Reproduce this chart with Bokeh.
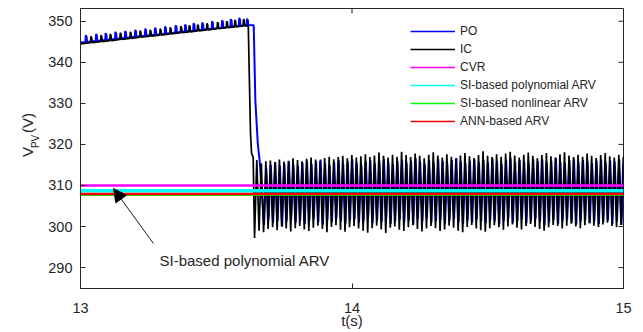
import numpy as np
from bokeh.plotting import figure
from bokeh.layouts import row
from bokeh.core.properties import value
from bokeh.models import (Range1d, Legend, LegendItem, Label, Arrow, NormalHead, FixedTicker)
from bokeh.embed import file_html
from bokeh.resources import INLINE

# ---------------- data ----------------
x_ticks = [13, 14, 15]
y_ticks = [290, 300, 310, 320, 330, 340, 350]

# IC (black) before the step: spike times, ramp baseline, spike tops
ic_spike_t = [13.037, 13.074, 13.108, 13.145, 13.182, 13.218, 13.255, 13.292, 13.329,
              13.368, 13.399, 13.430, 13.464, 13.503, 13.537, 13.567, 13.599]
ic_spike_base = [344.77, 345.04, 345.29, 345.56, 345.83, 346.09, 346.36, 346.63, 346.90,
                 347.19, 347.41, 347.64, 347.89, 348.17, 348.42, 348.64, 348.87]
ic_spike_peak = [346.3, 346.6, 346.9, 347.2, 347.4, 347.7, 347.9, 348.2, 348.5,
                 348.8, 349.0, 349.2, 349.5, 349.8, 350.0, 350.3, 350.5]
ic_start = [13.0, 344.5]
ic_drop_t = [13.618, 13.626, 13.630, 13.636]
ic_drop_v = [348.9, 323.0, 317.8, 316.9]

# PO (blue) before the step
po_spike_t = [13.018, 13.056, 13.091, 13.127, 13.163, 13.200, 13.237, 13.273, 13.310,
              13.349, 13.384, 13.415, 13.447, 13.483, 13.520, 13.552, 13.583, 13.612]
po_spike_base = [344.93, 345.19, 345.44, 345.69, 345.94, 346.20, 346.46, 346.71, 346.97,
                 347.24, 347.49, 347.71, 347.93, 348.18, 348.44, 348.66, 348.88, 349.08]
po_spike_peak = [346.6, 346.9, 347.1, 347.4, 347.6, 347.9, 348.2, 348.4, 348.7,
                 349.0, 349.2, 349.5, 349.7, 350.0, 350.2, 350.5, 350.8, 350.6]
po_start = [13.0, 344.9]
po_drop_t = [13.638, 13.644, 13.653, 13.660]
po_drop_v = [349.0, 330.7, 320.2, 316.0]

# oscillation after the step (about 60 Hz): troughs and peaks per cycle
osc_period = 1.0 / 60.0
ic_osc_t0 = 13.641
ic_trough = [297.2, 299.0, 298.6, 299.4, 299.8, 299.1, 300.0, 299.5, 298.8, 299.6,
             300.1, 299.3, 298.9, 299.7, 300.2, 299.4, 298.6, 299.9, 300.3, 299.2,
             298.7, 299.8, 300.1, 299.5, 299.0, 298.5, 299.6, 300.2, 299.3, 298.4,
             299.7, 300.0, 299.2, 298.9, 299.8, 300.3, 299.4, 298.8, 299.5, 300.1,
             299.6, 298.9, 299.3, 300.2, 299.7, 299.0, 298.6, 299.9, 300.4, 299.5,
             299.1, 298.7, 299.6, 300.3, 299.8, 299.2, 300.0, 300.5, 299.7, 299.3,
             300.1, 300.6, 299.9, 299.4, 299.0, 299.8, 300.4, 300.1, 299.5, 300.2,
             300.7, 300.0, 299.6, 300.3, 300.8, 300.2, 299.9, 300.5, 300.9, 300.1,
             299.8, 300.4]
ic_peak = [316.2, 315.4, 315.9, 316.1, 315.7, 316.3, 315.8, 316.0, 316.6, 316.2,
           315.9, 316.5, 316.8, 316.3, 316.0, 316.7, 317.0, 316.4, 316.9, 317.2,
           316.6, 317.4, 316.8, 317.1, 317.6, 316.9, 317.3, 318.0, 317.2, 316.8,
           317.5, 317.0, 318.2, 317.4, 316.9, 317.8, 317.2, 316.6, 317.5, 318.1,
           317.3, 316.8, 317.6, 317.0, 316.5, 317.3, 317.9, 317.1, 316.7, 317.4,
           318.3, 317.2, 316.9, 317.6, 317.0, 317.8, 318.2, 317.3, 316.8, 317.5,
           318.0, 317.2, 316.6, 317.4, 317.9, 317.1, 316.8, 317.6, 318.1, 317.3,
           316.9, 317.5, 317.0, 317.8, 317.2, 316.7, 317.4, 317.9, 317.1, 316.8,
           317.5, 317.0]
po_osc_t0 = 13.676
po_trough = [300.4, 301.7, 301.0, 301.4, 300.0, 301.2, 301.8, 300.9, 301.5, 300.6,
             301.3, 301.9, 301.1, 300.4, 301.6, 301.0, 302.0, 301.2, 300.7, 301.4,
             301.8, 300.9, 301.3, 302.1, 300.8, 301.5, 301.1, 301.9, 300.6, 301.2,
             301.7, 301.0, 301.4, 300.5, 301.8, 301.2, 302.0, 300.9, 301.3, 301.6,
             300.7, 301.4, 301.9, 301.1, 300.6, 301.5, 301.0, 301.8, 301.3, 300.8,
             301.6, 301.2, 300.5, 301.4, 302.0, 300.9, 301.3, 301.7, 300.8, 301.2,
             301.9, 301.1, 300.4, 301.0, 301.6, 300.7, 301.3, 301.8, 300.9, 300.5,
             301.2, 301.7, 300.8, 301.3, 300.6, 301.1, 301.5, 300.7, 301.2, 300.4,
             301.0]
po_peak = [314.2, 315.0, 315.6, 314.8, 315.3, 315.9, 315.1, 314.7, 315.5, 316.0,
           315.2, 315.8, 316.3, 315.4, 314.9, 315.7, 316.1, 315.3, 315.9, 316.4,
           315.6, 315.1, 315.8, 316.2, 315.4, 316.0, 316.5, 315.7, 315.2, 315.9,
           316.3, 315.5, 316.0, 316.6, 315.8, 315.3, 316.1, 315.6, 316.4, 315.9,
           315.4, 316.2, 316.7, 315.8, 315.5, 316.0, 316.4, 315.7, 316.2, 315.6,
           316.5, 315.9, 315.3, 316.1, 316.6, 315.7, 316.2, 315.8, 315.4, 316.3,
           315.9, 316.4, 315.6, 316.0, 316.7, 315.8, 315.5, 316.1, 316.5, 315.7,
           316.2, 315.9, 315.4, 316.0, 316.3, 315.6, 316.1, 315.8, 316.4, 315.5,
           312.4]

# flat controllers
flat_t = [13.0, 15.0]
cvr_v = [310.0, 310.0]
si_poly_v = [308.7, 308.7]
si_nonlin_v = [307.7, 307.7]
ann_v = [307.9, 307.9]

legend_labels = ["PO", "IC", "CVR", "SI-based polynomial ARV",
                 "SI-based nonlinear ARV", "ANN-based ARV"]
colors = ["#0000FF", "#000000", "#FF00FF", "#00FFFF", "#00FF00", "#FF0000"]


def build(start, sp_t, sp_b, sp_p, drop_t, drop_v, t0, troughs, peaks):
    xs, ys = [start[0]], [start[1]]
    for t, b, pk in zip(sp_t, sp_b, sp_p):
        xs += [t, t + 0.0015, t + 0.0045, t + 0.006]
        ys += [b, pk, pk - 0.4, b]
    xs += list(drop_t)
    ys += list(drop_v)
    for k, (tr, pk) in enumerate(zip(troughs, peaks)):
        xs += [t0 + k * osc_period, t0 + (k + 0.5) * osc_period]
        ys += [tr, pk]
    return xs, ys


po_x, po_y = build(po_start, po_spike_t, po_spike_base, po_spike_peak,
                   po_drop_t, po_drop_v, po_osc_t0, po_trough, po_peak)
ic_x, ic_y = build(ic_start, ic_spike_t, ic_spike_base, ic_spike_peak,
                   ic_drop_t, ic_drop_v, ic_osc_t0, ic_trough, ic_peak)

# ---------------- layout constants ----------------
X0, X1 = 13.0, 15.0
Y0, Y1 = 284.9, 353.1
H = 332
LW = 40                    # width of the strip that holds the y title
FL, FT, FW, FH = 80, 8, 543, 280   # frame position in the whole page
TXT = "#262626"
FONT = "Liberation Sans"


def sx(px):
    return X0 + (px - FL) / FW * (X1 - X0)


def sy(py):
    return Y1 - (py - FT) / FH * (Y1 - Y0)


# ---------------- y-title strip ----------------
lt = figure(width=LW, height=H, x_range=Range1d(0, LW), y_range=Range1d(0, H),
            x_axis_type=None, y_axis_type=None, min_border=0,
            output_backend="svg", toolbar_location=None)
lt.grid.visible = False
lt.outline_line_color = None
lt.border_fill_color = "white"
lt.background_fill_color = "white"
ytitle_parts = ["V", "PV", "(V)"]
ytitle_x = [27, 34.5, 27]
ytitle_y = [H - 176, H - 165.5, H - 147.5]
ytitle_size = ["15px", "10px", "15px"]
for t, xx, yy, fs in zip(ytitle_parts, ytitle_x, ytitle_y, ytitle_size):
    lt.text(x=[xx], y=[yy], text=[t], angle=np.pi / 2, text_font=value(FONT),
            text_font_size=value(fs), text_color=TXT, text_align="left",
            text_baseline="middle")

# ---------------- main figure ----------------
p = figure(width=643 - LW, height=H, x_range=Range1d(X0, X1), y_range=Range1d(Y0, Y1),
           output_backend="svg", toolbar_location=None,
           min_border_left=FL - LW, min_border_right=643 - FL - FW,
           min_border_top=FT, min_border_bottom=H - FT - FH)
p.grid.visible = False
p.outline_line_color = TXT
p.background_fill_color = "white"
p.border_fill_color = "white"

for ax in (p.xaxis[0], p.yaxis[0]):
    ax.major_tick_in = 5
    ax.major_tick_out = 0
    ax.minor_tick_line_color = None
    ax.axis_line_color = TXT
    ax.major_tick_line_color = TXT
    ax.major_label_text_color = TXT
    ax.major_label_text_font = FONT
    ax.major_label_text_font_size = "14.5px"
p.xaxis.ticker = FixedTicker(ticks=x_ticks)
p.yaxis.ticker = FixedTicker(ticks=y_ticks)
p.xaxis.major_label_standoff = 14
p.yaxis.major_label_standoff = 8
p.xaxis.axis_label = "t(s)"
p.xaxis.axis_label_text_font = FONT
p.xaxis.axis_label_text_font_size = "15px"
p.xaxis.axis_label_text_font_style = "normal"
p.xaxis.axis_label_text_color = TXT
p.xaxis.axis_label_standoff = -4

# inward ticks on the right and top edges of the box
tick_dx = 5 / FW * (X1 - X0)
tick_dy = 5 / FH * (Y1 - Y0)
p.segment(x0=[X1] * len(y_ticks), y0=y_ticks, x1=[X1 - tick_dx] * len(y_ticks), y1=y_ticks,
          line_color=TXT, line_width=1)
p.segment(x0=x_ticks, y0=[Y1] * len(x_ticks), x1=x_ticks, y1=[Y1 - tick_dy] * len(x_ticks),
          line_color=TXT, line_width=1)

# data
p.line(po_x, po_y, line_color=colors[0], line_width=2.0)
p.line(ic_x, ic_y, line_color=colors[1], line_width=1.7)
p.line(flat_t, cvr_v, line_color=colors[2], line_width=2.6)
p.line(flat_t, si_poly_v, line_color=colors[3], line_width=3.5)
p.line(flat_t, si_nonlin_v, line_color=colors[4], line_width=2.2)
p.line(flat_t, ann_v, line_color=colors[5], line_width=2.6)

# legend (thin sample lines, drawn from renderers whose points lie off the axes)
items = []
for lab, c in zip(legend_labels, colors):
    r = p.line([0, 1], [0, 0], line_color=c, line_width=1.3)
    items.append(LegendItem(label=lab, renderers=[r]))
legend = Legend(items=items, location=(330, 158), glyph_width=45, glyph_height=18,
                label_height=18, spacing=0, padding=0, margin=0, label_standoff=5,
                label_text_font_size="12px", label_text_font=FONT,
                label_text_color=TXT, border_line_alpha=0, background_fill_alpha=0)
p.add_layout(legend)

# annotation
p.add_layout(Arrow(end=NormalHead(size=13, fill_color="black", line_color="black"),
                   x_start=sx(153), y_start=sy(243), x_end=sx(113), y_end=sy(188),
                   line_color="black", line_width=0.9))
p.add_layout(Label(x=sx(159), y=sy(259.5), text="SI-based polynomial ARV",
                   text_font=FONT, text_font_size="15px", text_color=TXT,
                   text_baseline="alphabetic", text_align="left"))

layout = row(lt, p, spacing=0)
open("out.html", "w").write(file_html(layout, INLINE))
